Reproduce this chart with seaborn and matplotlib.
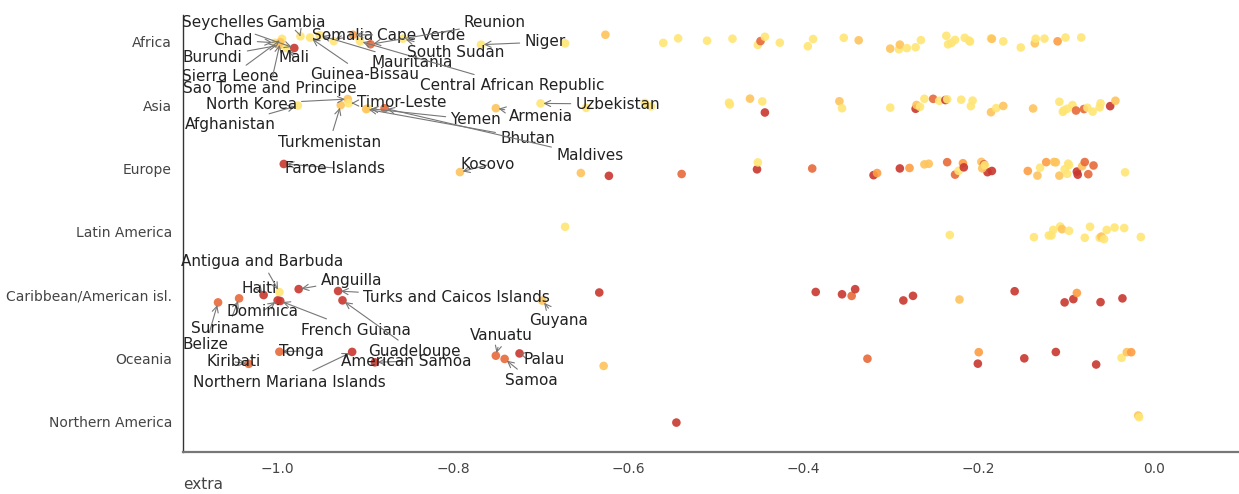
import numpy as np
import pandas as pd
import matplotlib
matplotlib.use("Agg")
import matplotlib.pyplot as plt
import seaborn as sns

# --- Datos ---
regions = ["Africa", "Asia", "Europe", "Latin America",
           "Caribbean/American isl.", "Oceania", "Northern America"]

# paises con etiqueta
label_names = ["Chad", "Burundi", "Sierra Leone", "Sao Tome and Principe", "Mali",
               "Seychelles", "Gambia", "Guinea-Bissau", "Mauritania", "Somalia",
               "Cape Verde", "Central African Republic", "Reunion", "South Sudan", "Niger",
               "Afghanistan", "North Korea", "Turkmenistan", "Timor-Leste", "Yemen",
               "Bhutan", "Maldives", "Armenia", "Uzbekistan",
               "Faroe Islands", "Kosovo",
               "Belize", "Suriname", "Haiti", "Antigua and Barbuda", "Dominica",
               "French Guiana", "Anguilla", "Turks and Caicos Islands", "Guadeloupe", "Guyana",
               "Kiribati", "Tonga", "Northern Mariana Islands", "American Samoa",
               "Vanuatu", "Samoa", "Palau"]
label_regions = ["Africa"] * 15 + ["Asia"] * 9 + ["Europe"] * 2 + \
                ["Caribbean/American isl."] * 10 + ["Oceania"] * 7
label_extra = [-1.003, -0.998, -0.995, -0.997, -0.990,
               -0.981, -0.974, -0.963, -0.952, -0.936,
               -0.914, -0.906, -0.894, -0.857, -0.768,
               -0.977, -0.920, -0.928, -0.919, -0.897,
               -0.899, -0.878, -0.751, -0.700,
               -0.993, -0.792,
               -1.068, -1.044, -1.016, -0.998, -1.000,
               -0.997, -0.976, -0.931, -0.926, -0.698,
               -1.033, -0.998, -0.915, -0.889,
               -0.751, -0.741, -0.724]
label_tier = list("YLYLYRYYYYOYDYY" + "YLLYYLDLY" + "RL" + "DDRYRRRRRL" + "DDRRDDR")

# resto de puntos por region
africa_extra = [-0.672, -0.626, -0.560, -0.543, -0.510, -0.481, -0.452, -0.449, -0.444,
                -0.427, -0.395, -0.389, -0.354, -0.337, -0.301, -0.291, -0.290, -0.282,
                -0.272, -0.266, -0.237, -0.235, -0.231, -0.227, -0.216, -0.211, -0.210,
                -0.186, -0.185, -0.172, -0.152, -0.136, -0.135, -0.125, -0.110, -0.101,
                -0.083]
africa_tier = list("YLYYYYYDYYYYYLLYLYYYYYYYYYYYLYYLYYOYY")

asia_extra = [-0.648, -0.581, -0.574, -0.485, -0.484, -0.461, -0.447, -0.444, -0.359,
              -0.356, -0.301, -0.272, -0.271, -0.267, -0.262, -0.252, -0.245, -0.238,
              -0.236, -0.220, -0.209, -0.207, -0.186, -0.180, -0.172, -0.138, -0.108,
              -0.104, -0.103, -0.099, -0.093, -0.089, -0.080, -0.076, -0.070, -0.062,
              -0.061, -0.050, -0.044]
asia_tier = list("YYYYYLYRLYYRLYYDYRYYYYLYLLYYYYYDDYYYYRL")

europe_extra = [-0.654, -0.622, -0.539, -0.453, -0.452, -0.390, -0.320, -0.316, -0.290,
                -0.279, -0.262, -0.257, -0.236, -0.227, -0.223, -0.218, -0.217, -0.197,
                -0.194, -0.190, -0.185, -0.196, -0.193, -0.144, -0.133, -0.130, -0.123,
                -0.114, -0.112, -0.108, -0.102, -0.099, -0.098, -0.097, -0.088, -0.087,
                -0.082, -0.079, -0.075, -0.069, -0.033]
europe_tier = list("LRDRYDROROLLDDYORLDRRLYOLYOLLLYYYYRRLDDDY")

latam_extra = [-0.672, -0.233, -0.137, -0.120, -0.115, -0.117, -0.107, -0.105, -0.097,
               -0.079, -0.073, -0.062, -0.060, -0.057, -0.054, -0.045, -0.034, -0.015]
latam_tier = list("YYYYYYYLYYYYLYYYYY")

carib_extra = [-0.633, -0.386, -0.356, -0.345, -0.341, -0.286, -0.275, -0.222, -0.159,
               -0.102, -0.092, -0.088, -0.061, -0.036]
carib_tier = list("RRRDRRRLRRRORR")

oceania_extra = [-0.628, -0.327, -0.201, -0.200, -0.148, -0.112, -0.066, -0.037, -0.031,
                 -0.026]
oceania_tier = list("LDRORRRYLO")

namerica_extra = [-0.545, -0.018, -0.017]
namerica_tier = list("RLY")

tier_colors = {"Y": "#ffe574", "L": "#fec45c", "O": "#fd9c42", "D": "#e8693a", "R": "#c9372f"}

# --- DataFrame ---
parts = [pd.DataFrame({"country": label_names, "region": label_regions,
                       "extra": label_extra, "tier": label_tier})]
for reg, xs, ts in [("Africa", africa_extra, africa_tier), ("Asia", asia_extra, asia_tier),
                    ("Europe", europe_extra, europe_tier), ("Latin America", latam_extra, latam_tier),
                    ("Caribbean/American isl.", carib_extra, carib_tier),
                    ("Oceania", oceania_extra, oceania_tier),
                    ("Northern America", namerica_extra, namerica_tier)]:
    parts.append(pd.DataFrame({"country": "", "region": reg, "extra": xs, "tier": ts}))
df = pd.concat(parts, ignore_index=True)

# posiciones del texto de las etiquetas (coordenadas de datos)
label_pos = {
    "Chad": (-1.051, -0.03), "Burundi": (-1.074, 0.24), "Seychelles": (-1.062, -0.30),
    "Gambia": (-0.979, -0.30), "Mali": (-0.981, 0.25), "Sierra Leone": (-1.054, 0.55),
    "Sao Tome and Principe": (-1.009, 0.74), "Somalia": (-0.926, -0.11),
    "Cape Verde": (-0.836, -0.11), "Reunion": (-0.752, -0.30), "Niger": (-0.695, 0.0),
    "South Sudan": (-0.797, 0.17), "Mauritania": (-0.846, 0.33),
    "Guinea-Bissau": (-0.901, 0.52), "Central African Republic": (-0.732, 0.69),
    "North Korea": (-1.030, 0.98), "Afghanistan": (-1.054, 1.31),
    "Timor-Leste": (-0.858, 0.95), "Yemen": (-0.774, 1.23), "Armenia": (-0.699, 1.17),
    "Uzbekistan": (-0.612, 0.98), "Turkmenistan": (-0.941, 1.59), "Bhutan": (-0.715, 1.52),
    "Maldives": (-0.644, 1.80), "Faroe Islands": (-0.934, 1.99), "Kosovo": (-0.760, 1.94),
    "Antigua and Barbuda": (-1.018, 3.46), "Haiti": (-1.021, 3.90),
    "Anguilla": (-0.916, 3.76), "Turks and Caicos Islands": (-0.796, 4.04),
    "Dominica": (-1.017, 4.25), "Suriname": (-1.057, 4.52),
    "French Guiana": (-0.911, 4.55), "Belize": (-1.082, 4.78), "Guyana": (-0.680, 4.39),
    "Guadeloupe": (-0.844, 4.89), "Vanuatu": (-0.745, 4.63), "Tonga": (-0.973, 4.88),
    "American Samoa": (-0.853, 5.04), "Palau": (-0.696, 5.02), "Kiribati": (-1.050, 5.05),
    "Northern Mariana Islands": (-0.987, 5.37), "Samoa": (-0.710, 5.35),
}

# --- Grafico ---
sns.set_style("white")
fig = plt.figure(figsize=(12.39, 4.94), dpi=100)
ax = fig.add_axes([0.1477, 0.085, 0.8523, 0.8846])

np.random.seed(3)
sns.stripplot(data=df, x="extra", y="region", hue="tier", order=regions,
              hue_order=list(tier_colors), palette=tier_colors, jitter=0.12,
              size=6.2, alpha=0.9, linewidth=0, legend=False, ax=ax)

# posiciones reales de los puntos dibujados
pts = np.vstack([c.get_offsets() for c in ax.collections if len(c.get_offsets())])

for _, row in df[df["country"] != ""].iterrows():
    yi = regions.index(row["region"])
    cand = pts[np.abs(pts[:, 1] - yi) < 0.5]
    p = cand[np.argmin(np.abs(cand[:, 0] - row["extra"]))]
    ax.annotate(row["country"], xy=(p[0], p[1]), xytext=label_pos[row["country"]],
                ha="center", va="center", fontsize=11, color="#222222",
                arrowprops=dict(arrowstyle="->", color="#777777", lw=0.8,
                                shrinkA=1, shrinkB=2))

ax.set_xlim(-1.108, 0.097)
ax.set_ylim(6.474, -0.426)
ax.set_xticks([-1.0, -0.8, -0.6, -0.4, -0.2, 0.0])
ax.set_xlabel("extra", loc="left", fontsize=11, color="#444444", labelpad=1)
ax.set_ylabel("")
ax.tick_params(axis="both", length=0, labelsize=10, labelcolor="#444444")
ax.tick_params(axis="y", pad=8)
ax.tick_params(axis="x", pad=7)
sns.despine(ax=ax)
ax.spines["left"].set_color("#333333")
ax.spines["left"].set_linewidth(1.0)
ax.spines["bottom"].set_color("#777777")
ax.spines["bottom"].set_linewidth(1.6)

fig.savefig("out.png", dpi=100)
